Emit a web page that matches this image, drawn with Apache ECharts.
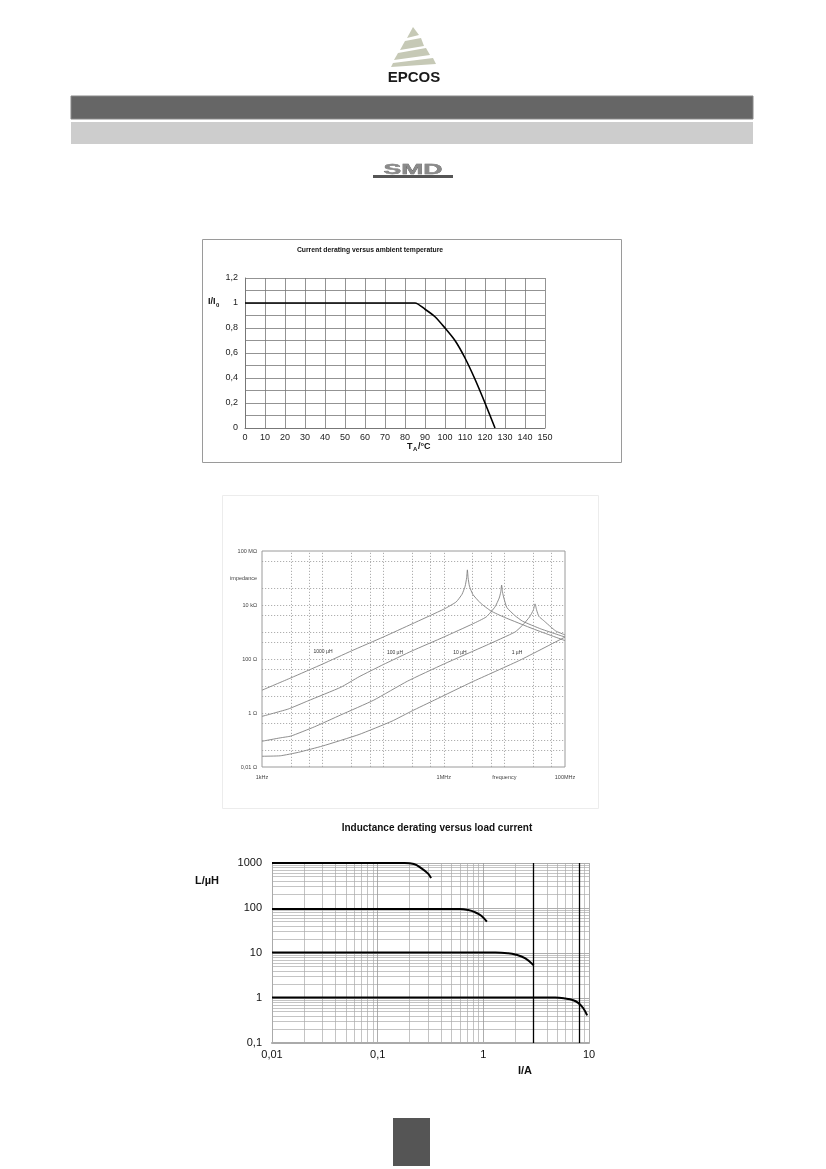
<!DOCTYPE html>
<html>
<head>
<meta charset="utf-8">
<title>EPCOS SMD inductor curves</title>
<script src="https://cdn.jsdelivr.net/npm/echarts@6/dist/echarts.min.js"></script>
<style>
html, body { margin: 0; padding: 0; background: #fff; }
#page { width: 826px; height: 1169px; }
</style>
</head>
<body>
<div id="page"></div>
<script>
// chart 1: current derating versus ambient temperature
var tempC = [0, 85, 90, 95, 100, 105, 110, 115, 120, 125];
var currentRatio = [1, 1, 0.95, 0.89, 0.8, 0.7, 0.56, 0.39, 0.2, 0];

// chart 2: impedance versus frequency  [f/Hz, Z/Ohm]
var imp1000uH = [[1e3, 7], [3e3, 20], [1e4, 65], [3e4, 200], [1e5, 650], [3e5, 2000], [1e6, 7000],
  [1.6e6, 13000], [2e6, 25000], [2.25e6, 50000], [2.38e6, 100000], [2.45e6, 200000], [2.52e6, 100000],
  [2.65e6, 50000], [3e6, 25000], [4e6, 12000], [6e6, 6000], [1e7, 3500], [3e7, 1300], [1e8, 480]];
var imp100uH = [[1e3, 0.75], [2.7e3, 1.4], [5.7e3, 2.8], [2e4, 9], [4e4, 22], [1e5, 62], [3e5, 200],
  [1e6, 650], [3e6, 2000], [5e6, 3600], [7e6, 8500], [8.2e6, 18000], [8.7e6, 30000], [9e6, 55000],
  [9.3e6, 30000], [9.8e6, 18000], [1.1e7, 8000], [1.5e7, 4000], [2e7, 2500], [4e7, 1300], [1e8, 650]];
var imp10uH = [[1e3, 0.09], [2e3, 0.12], [3e3, 0.14], [7.4e3, 0.31], [2e4, 0.85], [7e4, 3], [2.5e5, 15],
  [1e6, 65], [5e6, 320], [1.5e7, 1000], [2e7, 1800], [2.6e7, 3600], [3e7, 6500], [3.2e7, 11000],
  [3.4e7, 6500], [3.7e7, 3800], [4.4e7, 2700], [7e7, 1100], [1e8, 780]];
var imp1uH = [[1e3, 0.025], [2e3, 0.026], [4e3, 0.035], [1e4, 0.06], [4e4, 0.16], [1.4e5, 0.5],
  [3e5, 1.2], [7e5, 3], [2.9e6, 14], [1.8e7, 90], [1e8, 650]];
var impNames = ['1000 µH', '100 µH', '10 µH', '1 µH'];
var gridFreq = [3e3, 6e3, 1e4, 3e4, 6e4, 1e5, 3e5, 6e5, 1e6, 3e6, 6e6, 1e7, 3e7, 6e7];
var gridImp = [0.04, 0.1, 0.4, 1, 4, 10, 40, 100, 400, 1e3, 4e3, 1e4, 4e4, 4e5];
var freqLabels = { 3: '1kHz', 6: '1MHz', 7: 'frequency', 8: '100MHz' };
var impLabels = { '-2': '0,01 Ω', 0: '1 Ω', 2: '100 Ω', 4: '10 kΩ', 5: 'impedance', 6: '100 MΩ' };

// chart 3: inductance derating versus load current  [I/A, L/uH]
var ind1000 = [[0.01, 1000], [0.18, 1000], [0.22, 950], [0.26, 760], [0.3, 580], [0.32, 460]];
var ind100 = [[0.01, 95], [0.6, 95], [0.72, 90], [0.83, 81], [0.95, 68], [1.08, 50]];
var ind10 = [[0.01, 10.2], [1.3, 10.2], [1.7, 9.9], [2.0, 9.3], [2.5, 7.6], [3.0, 5.3]];
var ind1 = [[0.01, 1.02], [4.8, 1.02], [6, 0.97], [7, 0.9], [7.9, 0.78], [8.8, 0.6], [9.6, 0.41]];
var darkLinesI = [3, 8];
var currLabels = { '-2': '0,01', '-1': '0,1', 0: '1', 1: '10' };
var indLabels = { '-1': '0,1', 0: '1', 1: '10', 2: '100', 3: '1000' };

var FONT = '"Liberation Sans", Arial, sans-serif';
function expOf(v) { return String(Math.round(Math.log(v) / Math.LN10)); }
function comma(v) { return String(Math.round(v * 10) / 10).replace('.', ','); }

var chart = echarts.init(document.getElementById('page'), null, { renderer: 'canvas' });

function txt(x, y, text, size, opt) {
  opt = opt || {};
  return {
    type: 'text', x: x, y: y, silent: true,
    style: {
      text: text, fill: opt.color || '#111',
      font: (opt.bold ? 'bold ' : '') + size + 'px ' + FONT,
      textAlign: opt.align || 'left', align: opt.align || 'left',
      textVerticalAlign: 'middle', verticalAlign: 'middle'
    }
  };
}

var logoColor = '#c6c9b6';
var graphics = [
  // logo stripes
  { type: 'polygon', shape: { points: [[413, 27], [407, 38], [419, 35]] }, style: { fill: logoColor } },
  { type: 'polygon', shape: { points: [[405, 41], [400, 50], [424, 46], [421, 38]] }, style: { fill: logoColor } },
  { type: 'polygon', shape: { points: [[398, 53], [394, 60], [430, 55], [426, 48]] }, style: { fill: logoColor } },
  { type: 'polygon', shape: { points: [[393, 63], [391, 67], [436, 64], [433, 58]] }, style: { fill: logoColor } },
  txt(414, 78, 'EPCOS', 15, { bold: true, align: 'center', color: '#1a1a1a' }),
  { type: 'rect', shape: { x: 71, y: 96, width: 682, height: 23 }, style: { fill: '#666', stroke: '#888', lineWidth: 1 } },
  { type: 'rect', shape: { x: 71, y: 122, width: 682, height: 22 }, style: { fill: '#cdcdcd' } },
  // SMD logo
  { type: 'text', x: 413, y: 170, scaleX: 1.9, silent: true,
    style: { text: 'SMD', fill: '#8a8a8a', font: 'bold 14px ' + FONT, textAlign: 'center', align: 'center',
      textVerticalAlign: 'middle', verticalAlign: 'middle', stroke: '#555', lineWidth: 0.4 } },
  { type: 'rect', shape: { x: 373, y: 175, width: 80, height: 3 }, style: { fill: '#555' } },

  // chart 1 frame and texts
  { type: 'rect', shape: { x: 202.5, y: 239.5, width: 419, height: 223 }, style: { fill: 'none', stroke: '#9a9a9a', lineWidth: 1 } },
  txt(370, 250, 'Current derating versus ambient temperature', 6.8, { bold: true, align: 'center' }),
  txt(208, 302, 'I/I', 9, { bold: true }),
  txt(216, 305, '0', 6, { bold: true }),
  txt(407, 447, 'T', 9, { bold: true }),
  txt(413, 449, 'A', 6, { bold: true }),
  txt(418, 447, '/°C', 9, { bold: true }),

  // chart 2 faint frame and curve names
  { type: 'rect', shape: { x: 222.5, y: 495.5, width: 376, height: 313 }, style: { fill: 'none', stroke: '#ececec', lineWidth: 1 } },
  txt(323, 652, impNames[0], 5, { align: 'center', color: '#333' }),
  txt(395, 653, impNames[1], 5, { align: 'center', color: '#333' }),
  txt(460, 653, impNames[2], 5, { align: 'center', color: '#333' }),
  txt(517, 653, impNames[3], 5, { align: 'center', color: '#333' }),

  // chart 3 texts
  txt(437, 828, 'Inductance derating versus load current', 10, { bold: true, align: 'center' }),
  txt(195, 881, 'L/µH', 11, { bold: true }),
  txt(525, 1071, 'I/A', 11, { bold: true, align: 'center' }),

  // page number box
  { type: 'rect', shape: { x: 393, y: 1118, width: 37, height: 48 }, style: { fill: '#555' } }
];

function impSeries(data) {
  return {
    type: 'line', xAxisIndex: 1, yAxisIndex: 1, data: data, showSymbol: false, symbol: 'none',
    smooth: 0.15, silent: true, lineStyle: { color: '#808080', width: 0.9 }
  };
}
function indSeries(data) {
  return {
    type: 'line', xAxisIndex: 2, yAxisIndex: 2, data: data, showSymbol: false, symbol: 'none',
    smooth: 0.4, silent: true, lineStyle: { color: '#000', width: 2 }
  };
}

var series1000 = impSeries(imp1000uH);
series1000.markLine = {
  silent: true, symbol: 'none', animation: false, label: { show: false },
  lineStyle: { color: '#9a9a9a', type: [1.2, 1.8], width: 0.8 },
  data: gridFreq.map(function (v) { return { xAxis: v }; })
    .concat(gridImp.map(function (v) { return { yAxis: v }; }))
};
var seriesInd10 = indSeries(ind10);
seriesInd10.markLine = {
  silent: true, symbol: 'none', animation: false, label: { show: false },
  lineStyle: { color: '#000', type: 'solid', width: 1.3 },
  data: darkLinesI.map(function (v) { return { xAxis: v }; })
};

var option = {
  animation: false,
  backgroundColor: '#fff',
  textStyle: { fontFamily: FONT },
  graphic: graphics,
  grid: [
    { left: 245, top: 278, width: 300, height: 150 },
    { left: 262, top: 551, width: 303, height: 216, show: true, borderColor: '#9a9a9a', borderWidth: 1 },
    { left: 272, top: 863, width: 317, height: 180 }
  ],
  xAxis: [
    { type: 'value', gridIndex: 0, min: 0, max: 150, interval: 10,
      axisLine: { lineStyle: { color: '#777', width: 1 } }, axisTick: { show: false },
      axisLabel: { color: '#222', fontSize: 9, margin: 5 },
      splitLine: { lineStyle: { color: '#777', width: 0.8 } } },
    { type: 'log', gridIndex: 1, min: 1e3, max: 1e8, logBase: 10,
      axisLine: { show: false }, axisTick: { show: false }, splitLine: { show: false },
      axisLabel: { color: '#444', fontSize: 5.5, margin: 7,
        formatter: function (v) { return freqLabels[expOf(v)] || ''; } } },
    { type: 'log', gridIndex: 2, min: 0.01, max: 10, logBase: 10,
      axisLine: { lineStyle: { color: '#aaa', width: 2 } }, axisTick: { show: false },
      axisLabel: { color: '#111', fontSize: 11, margin: 6,
        formatter: function (v) { return currLabels[expOf(v)] || ''; } },
      splitLine: { lineStyle: { color: '#999', width: 0.8 } },
      minorTick: { show: false, splitNumber: 9 },
      minorSplitLine: { show: true, lineStyle: { color: '#aaa', width: 0.7 } } }
  ],
  yAxis: [
    { type: 'value', gridIndex: 0, min: 0, max: 1.2, interval: 0.1,
      axisLine: { show: true, lineStyle: { color: '#777', width: 1 } }, axisTick: { show: false },
      axisLabel: { color: '#222', fontSize: 9, margin: 7,
        formatter: function (v) { var k = Math.round(v * 10); return k % 2 === 0 ? comma(v) : ''; } },
      splitLine: { lineStyle: { color: '#777', width: 0.8 } } },
    { type: 'log', gridIndex: 1, min: 0.01, max: 1e6, logBase: 10,
      axisLine: { show: false }, axisTick: { show: false }, splitLine: { show: false },
      axisLabel: { color: '#444', fontSize: 5.5, margin: 5,
        formatter: function (v) { return impLabels[expOf(v)] || ''; } } },
    { type: 'log', gridIndex: 2, min: 0.1, max: 1000, logBase: 10,
      axisLine: { show: true, lineStyle: { color: '#aaa', width: 1 } }, axisTick: { show: false },
      axisLabel: { color: '#111', fontSize: 11, margin: 10,
        formatter: function (v) { return indLabels[expOf(v)] || ''; } },
      splitLine: { lineStyle: { color: '#999', width: 0.8 } },
      minorTick: { show: false, splitNumber: 9 },
      minorSplitLine: { show: true, lineStyle: { color: '#aaa', width: 0.7 } } }
  ],
  series: [
    { type: 'line', xAxisIndex: 0, yAxisIndex: 0, showSymbol: false, symbol: 'none', smooth: 0.25, silent: true,
      data: tempC.map(function (t, i) { return [t, currentRatio[i]]; }),
      lineStyle: { color: '#000', width: 1.6 } },
    series1000,
    impSeries(imp100uH),
    impSeries(imp10uH),
    impSeries(imp1uH),
    indSeries(ind1000),
    indSeries(ind100),
    seriesInd10,
    indSeries(ind1)
  ]
};
chart.setOption(option);
</script>
</body>
</html>
